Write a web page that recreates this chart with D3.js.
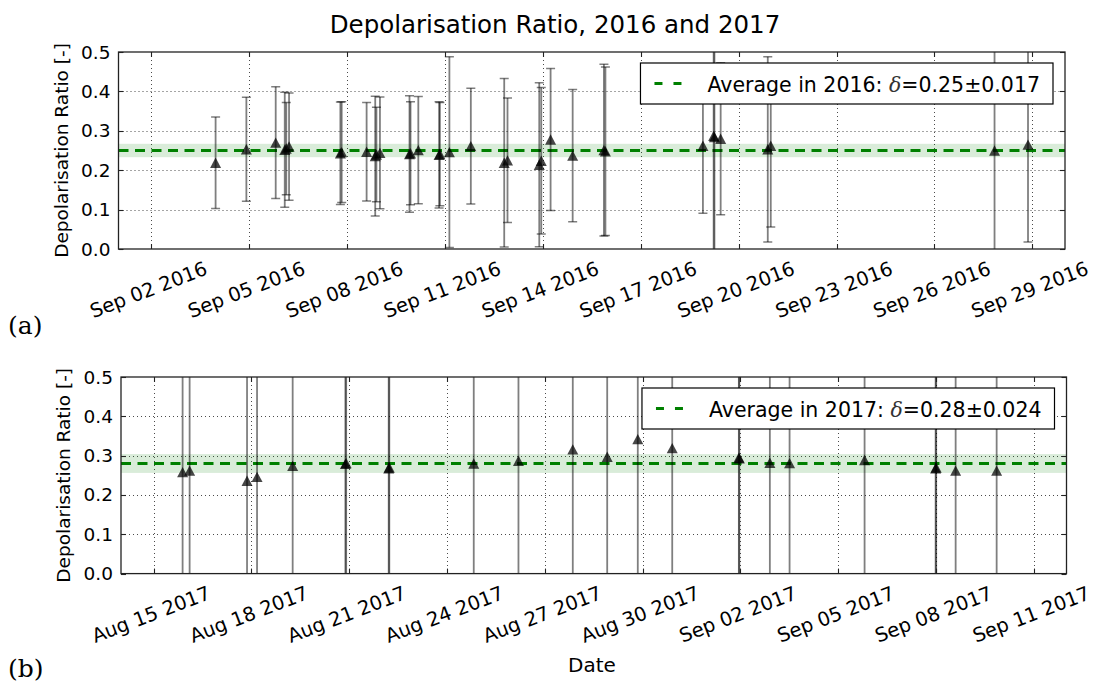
<!DOCTYPE html>
<html>
<head>
<meta charset="utf-8">
<script src="https://cdn.jsdelivr.net/npm/d3@7"></script>
<style>
  html, body { margin: 0; padding: 0; background: #fff; }
  svg { display: block; }
  text { font-family: "DejaVu Sans", sans-serif; fill: #000; }
</style>
</head>
<body>
<svg id="chart" width="1094" height="684"></svg>
<script>
// ---- 2016 campaign: observation times, depolarisation ratio and its uncertainty ----
const dates2016 = [
  "2016-09-03 23:24", "2016-09-04 22:02", "2016-09-05 19:36", "2016-09-06 02:15",
  "2016-09-06 03:22", "2016-09-06 05:25", "2016-09-07 19:09", "2016-09-07 20:07",
  "2016-09-08 14:27", "2016-09-08 20:47", "2016-09-08 21:40", "2016-09-09 00:15",
  "2016-09-09 21:59", "2016-09-09 22:44", "2016-09-10 04:28", "2016-09-10 19:44",
  "2016-09-10 20:20", "2016-09-11 03:19", "2016-09-11 19:05", "2016-09-12 19:38",
  "2016-09-12 22:03", "2016-09-13 21:24", "2016-09-13 22:52", "2016-09-14 05:44",
  "2016-09-14 21:58", "2016-09-15 20:57", "2016-09-15 22:03", "2016-09-18 21:45",
  "2016-09-19 05:38", "2016-09-19 06:13", "2016-09-19 10:48", "2016-09-20 21:26",
  "2016-09-20 23:38", "2016-09-27 20:11", "2016-09-28 20:48"
];
const ratio2016 = [
  0.219, 0.253, 0.270, 0.252, 0.255, 0.260, 0.243, 0.246,
  0.247, 0.236, 0.240, 0.244, 0.241, 0.243, 0.251, 0.239,
  0.241, 0.246, 0.261, 0.219, 0.225, 0.214, 0.224, 0.278,
  0.237, 0.251, 0.248, 0.262, 0.287, 0.284, 0.280, 0.253,
  0.262, 0.250, 0.265
];
const err2016 = [
  0.116, 0.132, 0.142, 0.146, 0.117, 0.136, 0.130, 0.128,
  0.125, 0.152, 0.120, 0.142, 0.148, 0.131, 0.136, 0.135,
  0.131, 0.242, 0.147, 0.214, 0.158, 0.208, 0.186, 0.180,
  0.168, 0.218, 0.214, 0.171, 0.420, 0.380, 0.193, 0.235,
  0.206, 0.360, 0.247
];
const ticks2016 = [
  "2016-09-02", "2016-09-05", "2016-09-08", "2016-09-11", "2016-09-14",
  "2016-09-17", "2016-09-20", "2016-09-23", "2016-09-26", "2016-09-29"
];
const range2016 = ["2016-09-01", "2016-09-30"];
const mean2016 = 0.25;
const spread2016 = 0.017;

// ---- 2017 campaign ----
const dates2017 = [
  "2017-08-15 21:21", "2017-08-16 02:31", "2017-08-17 20:47", "2017-08-18 04:09",
  "2017-08-19 06:22", "2017-08-20 21:10", "2017-08-20 21:45", "2017-08-22 05:04",
  "2017-08-22 05:30", "2017-08-24 19:40", "2017-08-26 04:35", "2017-08-27 20:34",
  "2017-08-28 21:54", "2017-08-29 20:25", "2017-08-30 21:46", "2017-09-01 22:49",
  "2017-09-01 23:10", "2017-09-02 21:38", "2017-09-03 12:09", "2017-09-05 19:22",
  "2017-09-07 23:40", "2017-09-08 00:05", "2017-09-08 14:24", "2017-09-09 20:35"
];
const ratio2017 = [
  0.258, 0.262, 0.236, 0.246, 0.274, 0.279, 0.281, 0.268,
  0.270, 0.280, 0.287, 0.316, 0.297, 0.342, 0.319, 0.295,
  0.293, 0.282, 0.281, 0.289, 0.268, 0.270, 0.262, 0.262
];
const err2017 = [
  0.45, 0.40, 0.42, 0.38, 0.40, 0.36, 0.39, 0.50,
  0.46, 0.40, 0.45, 0.50, 0.42, 0.55, 0.45, 0.50,
  0.47, 0.42, 0.40, 0.45, 0.48, 0.44, 0.40, 0.42
];
const ticks2017 = [
  "2017-08-15", "2017-08-18", "2017-08-21", "2017-08-24", "2017-08-27",
  "2017-08-30", "2017-09-02", "2017-09-05", "2017-09-08", "2017-09-11"
];
const range2017 = ["2017-08-14", "2017-09-12"];
const mean2017 = 0.28;
const spread2017 = 0.024;

const yTicks = [0.0, 0.1, 0.2, 0.3, 0.4, 0.5];

// ---------------------------------------------------------------------------
const parseTime = d3.utcParse("%Y-%m-%d %H:%M");
const parseDay = d3.utcParse("%Y-%m-%d");
const fmtTick = d3.utcFormat("%b %d %Y");
const svg = d3.select("#chart");

svg.append("text")
  .attr("x", 555).attr("y", 33)
  .attr("text-anchor", "middle")
  .style("font-size", "24.5px")
  .text("Depolarisation Ratio, 2016 and 2017");

function drawPanel(cfg) {
  const { left, right, top, bottom } = cfg;
  const x = d3.scaleUtc().domain(cfg.range.map(parseDay)).range([left, right]);
  const y = d3.scaleLinear().domain([0, 0.5]).range([bottom, top]);
  const g = svg.append("g");

  const clipId = "clip-" + cfg.id;
  svg.append("clipPath").attr("id", clipId)
    .append("rect").attr("x", left).attr("y", top)
    .attr("width", right - left).attr("height", bottom - top);

  const tickDates = cfg.ticks.map(parseDay);

  // dotted grid
  const grid = g.append("g").attr("stroke", "#000").attr("stroke-width", 1)
    .attr("stroke-dasharray", "1,3").attr("opacity", 0.7);
  grid.selectAll("line.v").data(tickDates).join("line").attr("class", "v")
    .attr("x1", d => Math.round(x(d)) + 0.5).attr("x2", d => Math.round(x(d)) + 0.5)
    .attr("y1", top).attr("y2", bottom);
  grid.selectAll("line.h").data(yTicks.filter(v => v > 0 && v < 0.5)).join("line").attr("class", "h")
    .attr("x1", left).attr("x2", right)
    .attr("y1", d => Math.round(y(d)) + 0.5).attr("y2", d => Math.round(y(d)) + 0.5);

  const plot = g.append("g").attr("clip-path", `url(#${clipId})`);

  // uncertainty band and mean line
  plot.append("rect")
    .attr("x", left).attr("width", right - left)
    .attr("y", y(cfg.mean + cfg.spread))
    .attr("height", y(cfg.mean - cfg.spread) - y(cfg.mean + cfg.spread))
    .attr("fill", "#008000").attr("fill-opacity", 0.15);
  plot.append("line")
    .attr("x1", left).attr("x2", right)
    .attr("y1", y(cfg.mean)).attr("y2", y(cfg.mean))
    .attr("stroke", "#008000").attr("stroke-width", 3)
    .attr("stroke-dasharray", "10,6.5");

  const pts = cfg.dates.map((d, i) => ({ t: parseTime(d), v: cfg.values[i], e: cfg.errors[i] }));

  // error bars with caps
  const bars = plot.append("g").attr("stroke", "#000").attr("stroke-opacity", 0.5);
  bars.selectAll("line.bar").data(pts).join("line").attr("class", "bar")
    .attr("x1", d => x(d.t)).attr("x2", d => x(d.t))
    .attr("y1", d => y(d.v + d.e)).attr("y2", d => y(d.v - d.e))
    .attr("stroke-width", 1.8);
  bars.selectAll("line.capt").data(pts).join("line").attr("class", "capt")
    .attr("x1", d => x(d.t) - 4.5).attr("x2", d => x(d.t) + 4.5)
    .attr("y1", d => y(d.v + d.e)).attr("y2", d => y(d.v + d.e))
    .attr("stroke-width", 1.5);
  bars.selectAll("line.capb").data(pts).join("line").attr("class", "capb")
    .attr("x1", d => x(d.t) - 4.5).attr("x2", d => x(d.t) + 4.5)
    .attr("y1", d => y(d.v - d.e)).attr("y2", d => y(d.v - d.e))
    .attr("stroke-width", 1.5);

  // triangle markers
  plot.append("g").selectAll("path").data(pts).join("path")
    .attr("d", d => {
      const cx = x(d.t), cy = y(d.v);
      return `M${cx},${cy - 5.2}L${cx + 5.5},${cy + 5.2}L${cx - 5.5},${cy + 5.2}Z`;
    })
    .attr("fill", "#000").attr("fill-opacity", 0.72);

  // frame
  g.append("rect").attr("x", left).attr("y", top)
    .attr("width", right - left).attr("height", bottom - top)
    .attr("fill", "none").attr("stroke", "#222").attr("stroke-width", 1.3);

  // inward ticks on all four sides
  const tk = g.append("g").attr("stroke", "#222").attr("stroke-width", 1.1);
  tickDates.forEach(d => {
    const px = Math.round(x(d)) + 0.5;
    tk.append("line").attr("x1", px).attr("x2", px).attr("y1", bottom).attr("y2", bottom - 5);
    tk.append("line").attr("x1", px).attr("x2", px).attr("y1", top).attr("y2", top + 5);
  });
  yTicks.forEach(v => {
    const py = Math.round(y(v)) + 0.5;
    tk.append("line").attr("x1", left).attr("x2", left + 5).attr("y1", py).attr("y2", py);
    tk.append("line").attr("x1", right).attr("x2", right - 5).attr("y1", py).attr("y2", py);
  });

  // y tick labels
  g.selectAll("text.yt").data(yTicks).join("text").attr("class", "yt")
    .attr("x", left - 8).attr("y", d => y(d))
    .attr("text-anchor", "end").attr("dominant-baseline", "central")
    .style("font-size", "18.5px")
    .text(d => d3.format(".1f")(d));

  // rotated date labels
  g.selectAll("text.xt").data(tickDates).join("text").attr("class", "xt")
    .attr("transform", d => `translate(${x(d) - 2.5},${bottom + 41}) rotate(-21)`)
    .attr("text-anchor", "middle").attr("dominant-baseline", "central")
    .style("font-size", "19.5px")
    .text(d => fmtTick(d));

  // y axis title
  g.append("text")
    .attr("transform", `translate(${left - 51},${(top + bottom) / 2}) rotate(-90)`)
    .attr("text-anchor", "middle")
    .style("font-size", "18.5px")
    .text("Depolarisation Ratio [-]");

  // legend
  const lg = g.append("g");
  const box = lg.append("rect").attr("fill", "#fff").attr("stroke", "#000").attr("stroke-width", 1.2);
  const label = lg.append("text").style("font-size", "20.5px").attr("dominant-baseline", "central");
  label.append("tspan").text(`Average in ${cfg.year}: `);
  label.append("tspan").style("font-family", "'DejaVu Serif', serif").style("font-style", "italic")
    .attr("fill", "#333").text("δ");
  label.append("tspan").text(`=${cfg.mean.toFixed(2)}±${cfg.spread.toFixed(3)}`);
  const textLen = label.node().getComputedTextLength();
  const boxW = 14 + 27 + 26 + textLen + 13;
  const boxH = 41;
  const bx = right - 12 - boxW, by = top + 11;
  box.attr("x", bx).attr("y", by).attr("width", boxW).attr("height", boxH);
  lg.append("line")
    .attr("x1", bx + 14).attr("x2", bx + 41)
    .attr("y1", by + boxH / 2).attr("y2", by + boxH / 2)
    .attr("stroke", "#008000").attr("stroke-width", 3).attr("stroke-dasharray", "8,11");
  label.attr("x", bx + 67).attr("y", by + boxH / 2 + 1);

  // panel letter
  svg.append("text")
    .attr("x", 8).attr("y", cfg.letterY)
    .style("font-family", "'DejaVu Serif', serif").style("font-size", "25px")
    .text(cfg.letter);

  return { x, y };
}

drawPanel({
  id: "a", year: 2016, dates: dates2016, values: ratio2016, errors: err2016,
  ticks: ticks2016, range: range2016, mean: mean2016, spread: spread2016,
  left: 118.5, right: 1065, top: 52, bottom: 249, letter: "(a)", letterY: 334
});
drawPanel({
  id: "b", year: 2017, dates: dates2017, values: ratio2017, errors: err2017,
  ticks: ticks2017, range: range2017, mean: mean2017, spread: spread2017,
  left: 121, right: 1066.5, top: 377, bottom: 573.6, letter: "(b)", letterY: 677
});

svg.append("text")
  .attr("x", 592).attr("y", 672)
  .attr("text-anchor", "middle")
  .style("font-size", "20px")
  .text("Date");
</script>
</body>
</html>
